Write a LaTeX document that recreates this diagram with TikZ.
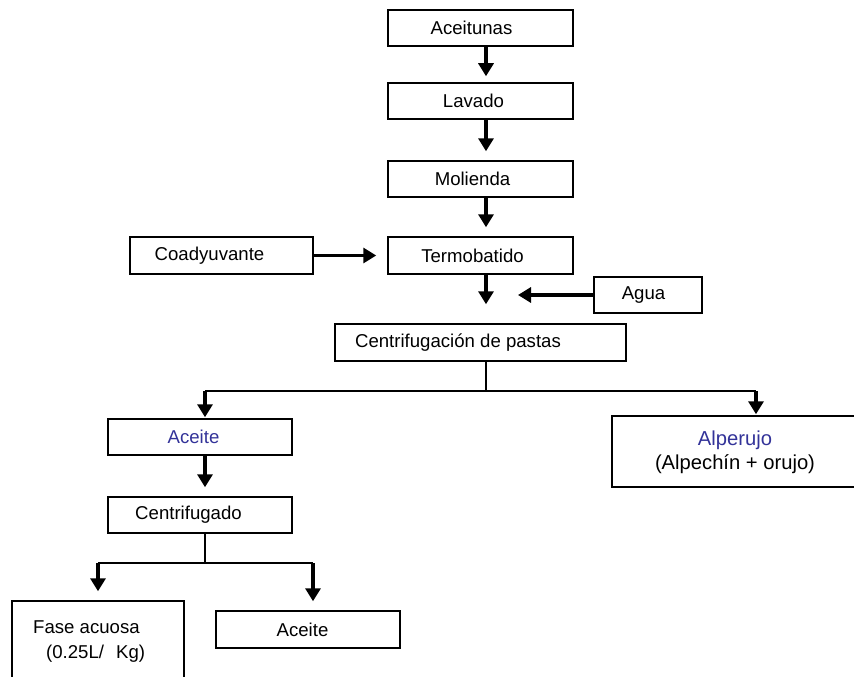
\documentclass[tikz,border=0pt]{standalone}
\usepackage{fontspec}
\setmainfont{Liberation Sans}
\usetikzlibrary{arrows.meta}
\definecolor{prodblue}{HTML}{333399}
\begin{document}
\begin{tikzpicture}[x=1pt,y=-1pt,
  stepbox/.style={draw, line width=1.5pt, inner sep=0pt, minimum width=184pt, minimum height=36pt},
  boxlabel/.style={font=\fontsize{18.6}{22}\selectfont, inner sep=0pt},
  flow/.style={line width=3.3pt, -{Triangle[width=15pt,length=13pt]}},
  branch/.style={line width=1.3pt},
]
\fill[white] (0,0) rectangle (854,677);
\useasboundingbox (0,0) rectangle (854,677);
\clip (0,0) rectangle (854,677);

% main column of the process
\coordinate (col) at (486,0);

\node[stepbox, minimum width=185pt,
  label={[boxlabel, name=aceitunasT, xshift=-9pt]center:Aceitunas}] (aceitunas) at (480.5,28) {};
\node[stepbox, minimum width=185pt,
  label={[boxlabel, name=lavadoT, xshift=-7pt]center:Lavado}] (lavado) at (480.5,101) {};
\node[stepbox, minimum width=185pt,
  label={[boxlabel, name=moliendaT, xshift=-8pt]center:Molienda}] (molienda) at (480.5,179) {};
\node[stepbox, minimum width=185pt, minimum height=37pt,
  label={[boxlabel, name=termobatidoT, xshift=-8pt]center:Termobatido}] (termobatido) at (480.5,255.5) {};
\node[stepbox, minimum width=183pt, minimum height=37pt,
  label={[boxlabel, name=coadyuvanteT, xshift=-12pt]center:Coadyuvante}] (coadyuvante) at (221.5,255.5) {};
\node[stepbox, minimum width=108pt,
  label={[boxlabel, name=aguaT, xshift=-4.5pt]center:Agua}] (agua) at (648,295) {};
\node[stepbox, minimum width=291pt, minimum height=37pt,
  label={[boxlabel, name=centrifT, xshift=-22.5pt]center:Centrifugación de pastas}] (centrif) at (480.5,342.5) {};

% products of the paste centrifuge
\node[stepbox,
  label={[boxlabel, name=aceiteT, xshift=-6.5pt, text=prodblue]center:Aceite}] (aceite) at (200,437) {};
\node[stepbox, minimum width=278pt, minimum height=71pt] (alperujo) at (751,451.5) {};
\node[boxlabel, font=\fontsize{20.2}{24}\selectfont, align=center] (alperujoT) at (735,452.5)
  {{\color{prodblue}Alperujo}\\(Alpechín + orujo)};

% second centrifuge
\node[stepbox,
  label={[boxlabel, name=centrifugadoT, xshift=-11.5pt]center:Centrifugado}] (centrifugado) at (200,515) {};
\node[stepbox, minimum width=172pt, minimum height=98pt] (fase) at (98,650) {};
\node[boxlabel, font=\fontsize{18.6}{25}\selectfont, align=left, anchor=west] (faseT) at (33,642)
  {Fase acuosa\\\hspace*{13pt}(0.25L/\hspace{12pt}Kg)};
\node[stepbox, minimum height=37pt,
  label={[boxlabel, name=aceite2T, xshift=-5.5pt]center:Aceite}] (aceite2) at (308,629.5) {};

% connectors
\draw[flow, shorten >=6pt] (aceitunas.south -| col) -- (lavado.north -| col);
\draw[flow, shorten >=9pt] (lavado.south -| col) -- (molienda.north -| col);
\draw[flow, shorten >=9pt] (molienda.south -| col) -- (termobatido.north -| col);
\draw[flow, shorten >=11pt] (coadyuvante.east) -- (termobatido.west);
\draw[flow, shorten >=19pt] (termobatido.south -| col) -- (centrif.north -| col);
\draw[flow, shorten >=32pt] (agua.west) -- (agua.west -| col);

\coordinate (split) at (486,391);
\coordinate (toaceite) at (205,391);
\coordinate (toalperujo) at (756,391);
\draw[branch] (centrif.south -| col) -- (split);
\draw[branch] (toaceite) -- (toalperujo);
\draw[flow, shorten >=1pt] (toaceite) -- (aceite.north -| toaceite);
\draw[flow, shorten >=1pt] (toalperujo) -- (alperujo.north -| toalperujo);
\draw[flow, shorten >=9pt] (aceite.south -| toaceite) -- (centrifugado.north -| toaceite);

\coordinate (split2) at (205,563);
\coordinate (tofase) at (98,563);
\coordinate (toaceite2) at (313,563);
\draw[branch] (centrifugado.south -| split2) -- (split2);
\draw[branch] (tofase) -- (toaceite2);
\draw[flow, shorten >=9pt] (tofase) -- (fase.north -| tofase);
\draw[flow, shorten >=9pt] (toaceite2) -- (aceite2.north -| toaceite2);
\end{tikzpicture}
\end{document}
